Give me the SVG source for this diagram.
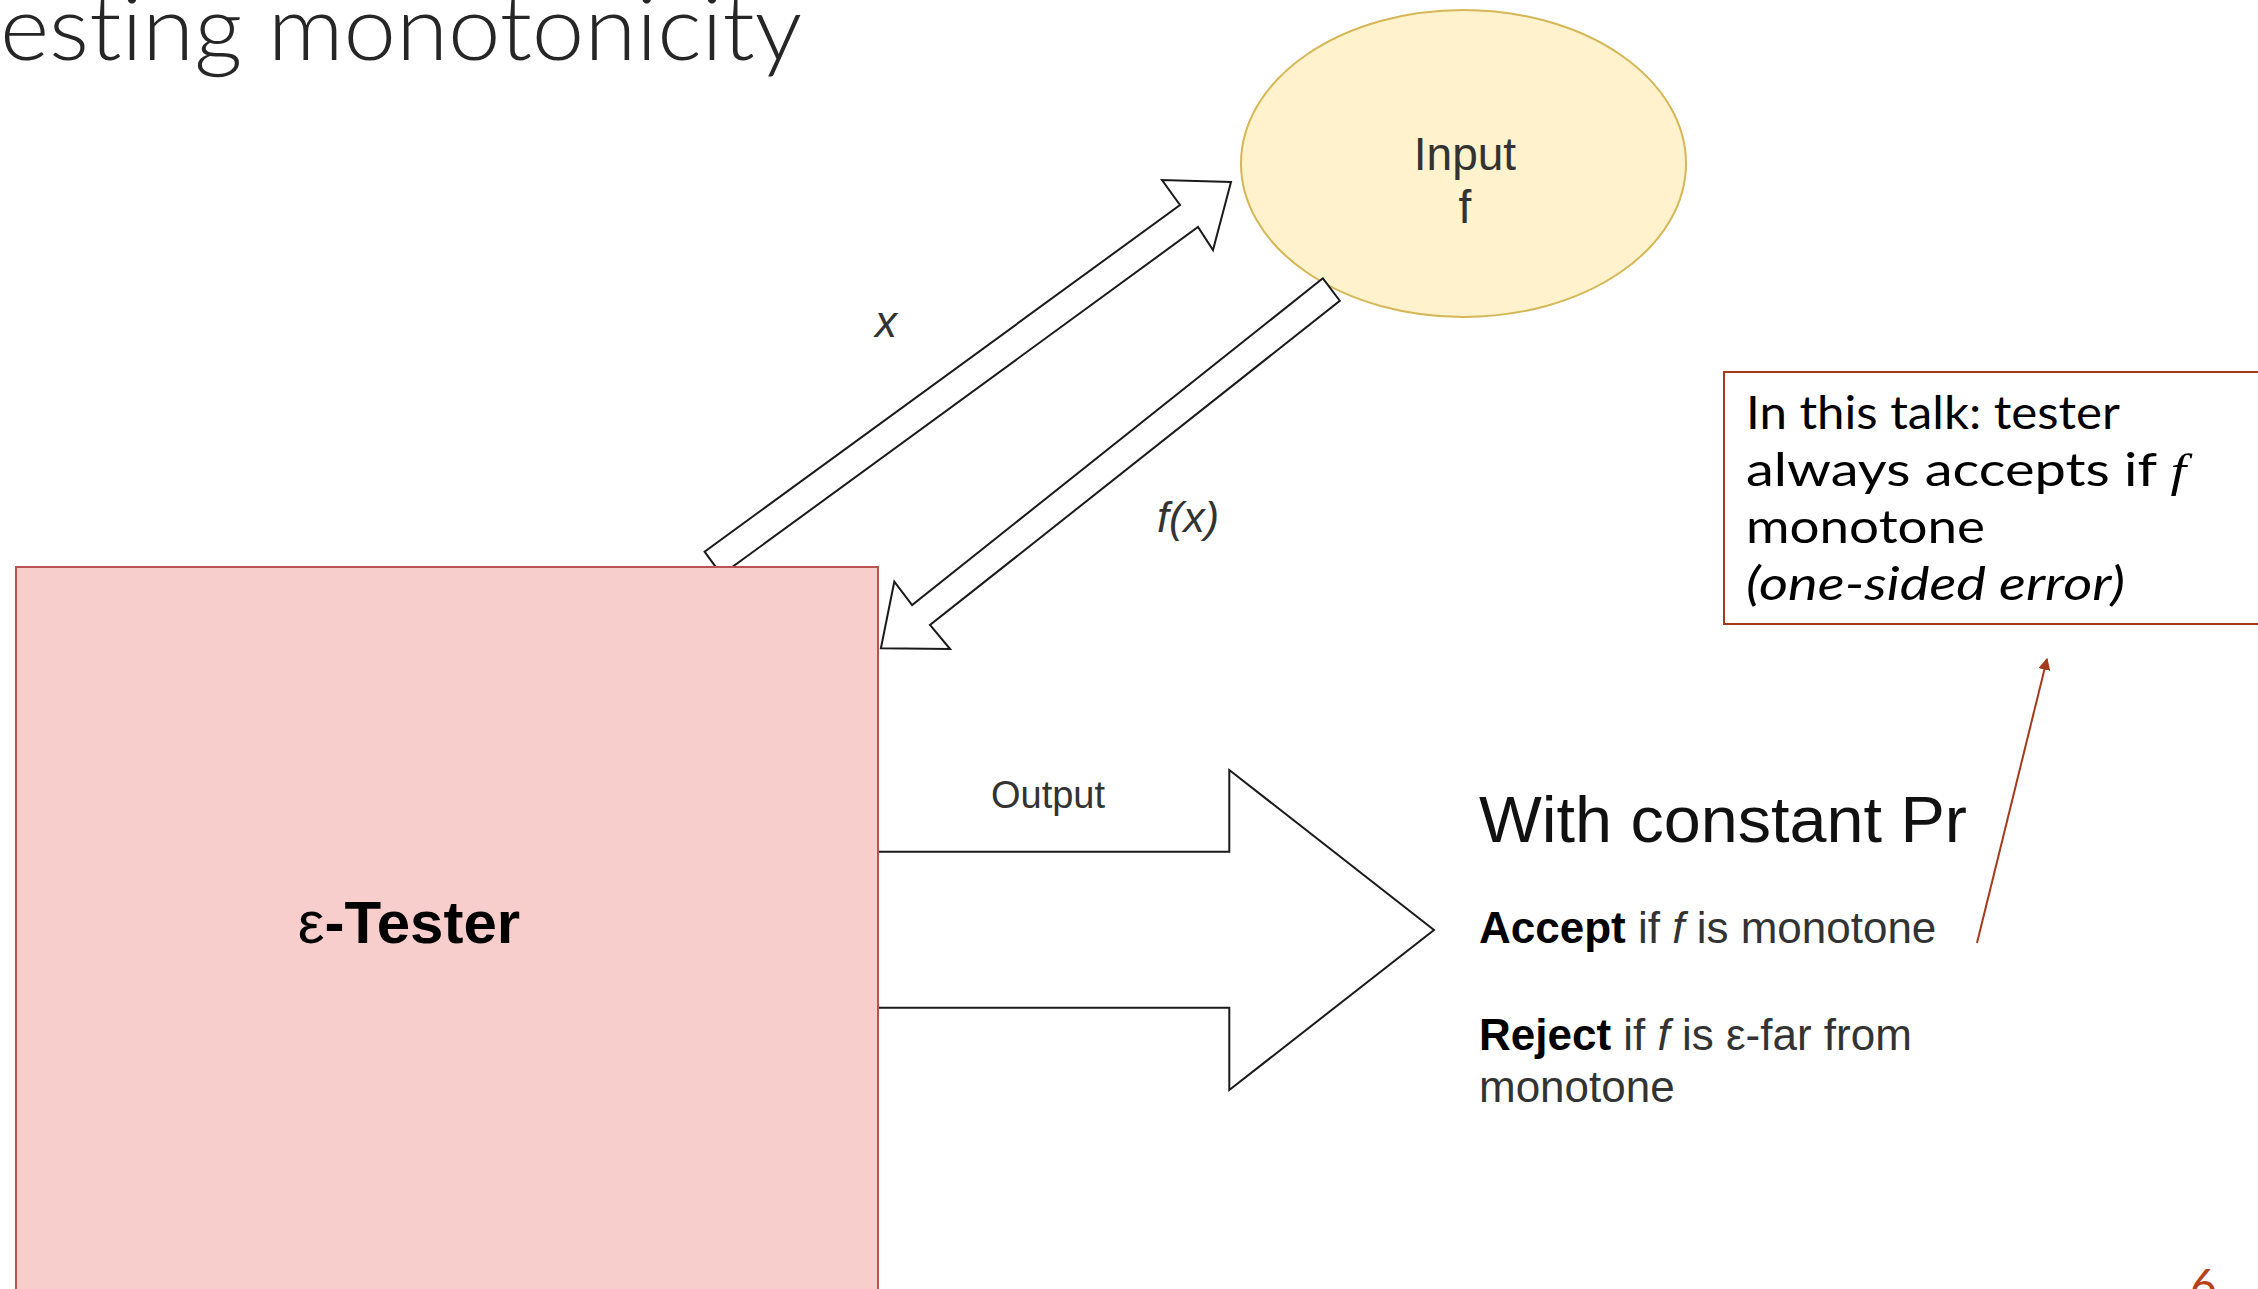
<svg xmlns="http://www.w3.org/2000/svg" width="2258" height="1289" viewBox="0 0 2258 1289">
  <style>
    .sans { font-family: "Liberation Sans", Arial, sans-serif; }
    .geo { font-family: Lato, "Open Sans", sans-serif; font-variant-ligatures: none; }
    .flex { fill: #ffffff; stroke: #1a1a1a; stroke-width: 2; stroke-linejoin: miter; }
    .gray { fill: #333333; }
    .dark { fill: #111111; }
  </style>
  <defs>
    <marker id="noteHead" viewBox="0 0 10 10" refX="9" refY="5" markerWidth="6" markerHeight="6" orient="auto" markerUnits="strokeWidth">
      <path d="M0,0 L10,5 L0,10 Z" fill="#a33a1d"/>
    </marker>
  </defs>

  <rect x="0" y="0" width="2258" height="1289" fill="#ffffff"/>

  <!-- slide title (left part runs off the page) -->
  <g id="title">
    <text class="geo" x="0" y="60" font-size="90" font-weight="300" fill="#262626" textLength="802" lengthAdjust="spacingAndGlyphs">esting monotonicity</text>
  </g>

  <!-- input function node -->
  <g id="node-input">
    <ellipse cx="1463.5" cy="163.5" rx="222.5" ry="153.5" fill="#fff2cc" stroke="#d6b656" stroke-width="2"/>
    <text class="sans gray" x="1465" y="170" font-size="46" text-anchor="middle">Input</text>
    <text class="sans gray" x="1465" y="223" font-size="46" text-anchor="middle">f</text>
  </g>

  <!-- flex arrows between tester and input, plus the output arrow -->
  <g id="connectors">
    <polygon id="edge-query" class="flex" points="721.5,574.9 704.6,551.7 1180,205 1162,180 1231,182 1213,250 1198,227"/>
    <polygon id="edge-answer" class="flex" points="1322.9,278.3 912.1,605 894.3,581.7 880.9,648.3 950.1,649 930,625 1339.8,300.7"/>
    <polygon id="edge-output" class="flex" points="870,851.7 1229.3,851.7 1229.3,770 1434,930 1229.3,1090 1229.3,1007.7 870,1007.7"/>
    <line id="edge-note" x1="1977" y1="943" x2="2047" y2="659" stroke="#a33a1d" stroke-width="2" marker-end="url(#noteHead)"/>
    <text class="sans gray" x="886" y="337" font-size="44" font-style="italic" text-anchor="middle">x</text>
    <text class="sans gray" x="1188" y="532" font-size="43" font-style="italic" text-anchor="middle">f(x)</text>
    <text class="sans gray" x="1048" y="808" font-size="38" text-anchor="middle">Output</text>
  </g>

  <!-- tester node -->
  <g id="node-tester">
    <rect x="16" y="567" width="862" height="760" fill="#f8cecc" stroke="#b85450" stroke-width="2"/>
    <text class="sans" x="409" y="943" font-size="60" text-anchor="middle" fill="#000000"><tspan font-weight="normal">ε</tspan><tspan font-weight="bold">-Tester</tspan></text>
  </g>

  <!-- outcome text -->
  <g id="node-outcome" class="sans">
    <text class="dark" x="1479" y="842" font-size="65" textLength="488" lengthAdjust="spacingAndGlyphs">With constant Pr</text>
    <text class="gray" x="1479" y="943" font-size="44"><tspan font-weight="bold" fill="#000000">Accept</tspan> if <tspan font-style="italic">f</tspan> is monotone</text>
    <text class="gray" x="1479" y="1050" font-size="44"><tspan font-weight="bold" fill="#000000">Reject</tspan> if <tspan font-style="italic">f</tspan> is ε-far from</text>
    <text class="gray" x="1479" y="1102" font-size="44">monotone</text>
  </g>

  <!-- side note -->
  <g id="node-note">
    <rect x="1724" y="372" width="560" height="252" fill="#ffffff" stroke="#a33a1d" stroke-width="2"/>
    <text class="geo" x="1746" y="429" font-size="46" fill="#000000" textLength="374" lengthAdjust="spacingAndGlyphs">In this talk: tester</text>
    <text class="geo" x="1746" y="486" font-size="46" fill="#000000" textLength="440" lengthAdjust="spacingAndGlyphs">always accepts if <tspan font-family="'Liberation Serif', serif" font-style="italic">f</tspan></text>
    <text class="geo" x="1746" y="543" font-size="46" fill="#000000" textLength="239" lengthAdjust="spacingAndGlyphs">monotone</text>
    <text class="geo" x="1746" y="600" font-size="46" font-style="italic" fill="#000000" textLength="379" lengthAdjust="spacingAndGlyphs">(one-sided error)</text>
  </g>

  <!-- page number -->
  <g id="page-number">
    <text class="geo" x="2190" y="1302" font-size="46" fill="#b5421b">6</text>
  </g>
</svg>
